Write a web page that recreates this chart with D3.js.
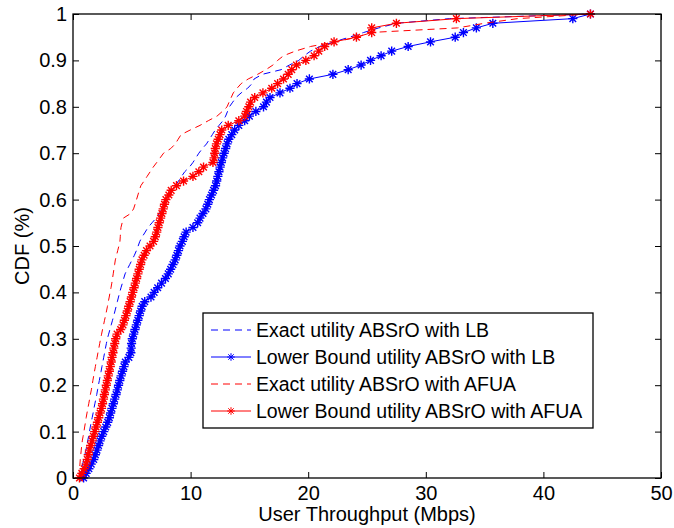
<!DOCTYPE html>
<html><head><meta charset="utf-8">
<script src="https://cdn.jsdelivr.net/npm/d3@7"></script>
<style>
body{margin:0;background:#fff}
svg{display:block}
text{font-family:"Liberation Sans",Arial,Helvetica,sans-serif;fill:#000}
</style>
</head><body>
<svg id="chart" width="674" height="528"></svg>
<script>
// ---- data: sorted user throughputs (Mbps), one value per CDF step ----
const seriesNames = [
  "Exact utility ABSrO with LB",
  "Lower Bound utility ABSrO with LB",
  "Exact utility ABSrO with AFUA",
  "Lower Bound utility ABSrO with AFUA"
];
const exactLB = [0.55,0.62,0.72,0.82,0.92,1.01,1.10,1.18,1.25,1.33,1.40,1.47,1.55,1.63,1.71,1.78,1.86,1.94,2.02,2.09,
 2.16,2.24,2.31,2.39,2.46,2.54,2.61,2.69,2.76,2.84,2.92,3.03,3.14,3.25,3.36,3.47,3.57,3.67,3.77,3.87,
 3.97,4.08,4.20,4.31,4.43,4.62,4.82,5.02,5.22,5.39,5.54,5.68,5.89,6.14,6.38,6.72,7.06,7.35,7.55,7.73,
 7.90,8.15,8.42,8.70,8.97,9.23,9.50,9.90,10.2,10.45,10.7,11.0,11.35,11.6,11.85,12.1,12.42,12.75,12.98,13.14,
 13.3,13.58,13.86,14.3,14.85,15.22,15.4,16.1,17.7,18.4,19.2,19.65,20.2,21.0,22.2,23.5,24.7,26.0,27.5,32.0,44.0];
const lowerLB = [0.9,1.12,1.35,1.55,1.76,1.90,2.04,2.17,2.30,2.44,2.61,2.78,2.95,3.09,3.20,3.31,3.43,3.54,3.66,3.77,
 3.87,3.98,4.09,4.21,4.33,4.45,4.75,4.92,4.95,4.98,5.04,5.16,5.27,5.39,5.51,5.63,5.75,5.88,6.10,6.63,
 6.90,7.20,7.53,7.86,8.10,8.30,8.50,8.69,8.83,8.97,9.10,9.30,9.45,9.62,10.2,10.6,10.8,11.05,11.3,11.46,
 11.6,11.78,11.95,12.12,12.22,12.32,12.41,12.51,12.61,12.72,12.85,12.98,13.1,13.25,13.5,13.75,14.1,14.6,15.0,15.55,
 16.2,16.45,16.75,17.6,18.45,19.05,20.1,22.1,23.4,24.5,25.3,26.2,27.1,28.5,30.4,32.5,33.2,34.3,35.7,42.5,44.0];
const exactAFUA = [0.50,0.53,0.56,0.59,0.62,0.66,0.70,0.74,0.79,0.86,0.93,0.99,1.06,1.12,1.19,1.26,1.34,1.41,1.48,1.56,
 1.63,1.69,1.76,1.83,1.90,1.97,2.05,2.12,2.20,2.27,2.35,2.43,2.51,2.60,2.68,2.77,2.85,2.93,3.00,3.08,
 3.15,3.23,3.30,3.36,3.42,3.48,3.54,3.60,3.70,3.80,3.90,3.99,4.02,4.04,4.08,4.18,4.28,4.90,5.15,5.28,
 5.40,5.52,5.64,5.77,6.04,6.30,6.56,6.82,7.12,7.41,7.70,8.31,8.70,8.94,9.19,9.97,10.8,11.5,12.25,12.7,
 13.1,13.27,13.45,13.63,13.95,14.3,14.9,15.7,16.4,17.0,17.4,17.9,18.9,20.2,22.3,24.2,25.2,32.7,35.0,37.8,44.0];
const lowerAFUA = [0.55,0.75,0.95,1.12,1.21,1.30,1.40,1.50,1.62,1.73,1.85,1.96,2.08,2.19,2.30,2.42,2.51,2.59,2.67,2.75,
 2.83,2.92,3.00,3.09,3.17,3.25,3.32,3.40,3.47,3.55,3.63,3.75,4.05,4.25,4.37,4.50,4.62,4.74,4.86,4.97,
 5.08,5.19,5.30,5.41,5.52,5.63,5.75,5.86,6.05,6.25,6.55,6.85,7.0,7.12,7.22,7.33,7.45,7.56,7.67,7.78,
 7.9,8.15,8.35,8.8,9.4,10.2,10.7,11.1,11.9,12.0,12.05,12.1,12.2,12.35,12.5,12.65,13.2,14.1,14.6,14.75,
 14.95,15.1,15.45,16.15,16.9,17.4,17.9,18.3,18.6,19.0,19.8,20.5,20.9,21.4,22.2,24.1,25.4,25.4,27.5,32.6,44.0];
const xTickValues = [0,10,20,30,40,50];
const yTickValues = [0,0.1,0.2,0.3,0.4,0.5,0.6,0.7,0.8,0.9,1];
const yTickLabels = ["0","0.1","0.2","0.3","0.4","0.5","0.6","0.7","0.8","0.9","1"];
const xLabel = "User Throughput (Mbps)";
const yLabel = "CDF (%)";

// ---- series styling ----
const series = [
  {name: seriesNames[0], values: exactLB,   color: "#0000ff", dashed: true,  marker: false},
  {name: seriesNames[1], values: lowerLB,   color: "#0000ff", dashed: false, marker: true},
  {name: seriesNames[2], values: exactAFUA, color: "#ff0000", dashed: true,  marker: false},
  {name: seriesNames[3], values: lowerAFUA, color: "#ff0000", dashed: false, marker: true}
];

const svg = d3.select("#chart");
const L = 73, R = 661, T = 14, B = 478;
const x = d3.scaleLinear().domain([0, 50]).range([L, R]);
const y = d3.scaleLinear().domain([0, 1]).range([B, T]);
const FS = 20, LFS = 19.5;
const DASH = "7,5";

// axes
const tick = 6;
const gx = svg.append("g").attr("transform", `translate(0,${B})`)
  .call(d3.axisBottom(x).tickValues(xTickValues).tickSize(-tick).tickSizeOuter(0).tickPadding(8));
const gy = svg.append("g").attr("transform", `translate(${L},0)`)
  .call(d3.axisLeft(y).tickValues(yTickValues).tickFormat((d, i) => yTickLabels[i]).tickSize(-tick).tickSizeOuter(0).tickPadding(6));
const gt = svg.append("g").attr("transform", `translate(0,${T})`)
  .call(d3.axisTop(x).tickValues(xTickValues).tickFormat("").tickSize(-tick).tickSizeOuter(0));
const gr = svg.append("g").attr("transform", `translate(${R},0)`)
  .call(d3.axisRight(y).tickValues(yTickValues).tickFormat("").tickSize(-tick).tickSizeOuter(0));
[gx, gy, gt, gr].forEach(g => {
  g.selectAll(".domain").remove();
  g.selectAll("line").attr("stroke", "#000").attr("stroke-width", 1);
  g.selectAll("text").attr("font-size", FS).attr("font-family", '"Liberation Sans",Arial,sans-serif').attr("fill", "#000");
});

// star marker paths
function starPath(r) {
  const d = r * 0.72;
  return `M${-r},0H${r}M0,${-r}V${r}M${-d},${-d}L${d},${d}M${-d},${d}L${d},${-d}`;
}
const starCurve = starPath(4.6), starLegend = starPath(3.8);

const line = d3.line().x(v => x(v[0])).y(v => y(v[1]));
series.forEach(s => {
  const n = s.values.length;
  const pts = s.values.map((v, i) => [v, i / (n - 1)]);
  const g = svg.append("g");
  g.append("path").datum(pts).attr("d", line)
    .attr("fill", "none").attr("stroke", s.color).attr("stroke-width", 1)
    .attr("stroke-dasharray", s.dashed ? DASH : null);
  if (s.marker) {
    g.selectAll("path.m").data(pts).join("path").attr("class", "m")
      .attr("transform", p => `translate(${x(p[0])},${y(p[1])})`)
      .attr("d", starCurve).attr("fill", "none").attr("stroke", s.color).attr("stroke-width", 1.4);
  }
});

// box
svg.append("rect").attr("x", L).attr("y", T).attr("width", R - L).attr("height", B - T)
  .attr("fill", "none").attr("stroke", "#000").attr("stroke-width", 1.3);

// axis labels
svg.append("text").attr("x", (L + R) / 2).attr("y", 521).attr("text-anchor", "middle")
  .attr("font-size", FS).text(xLabel);
svg.append("text").attr("transform", `translate(29,${(T + B) / 2}) rotate(-90)`)
  .attr("text-anchor", "middle").attr("font-size", FS).text(yLabel);

// legend
const lg = svg.append("g");
const lx = 203, ly = 313, lw = 390, lh = 115;
lg.append("rect").attr("x", lx).attr("y", ly).attr("width", lw).attr("height", lh)
  .attr("fill", "#fff").attr("stroke", "#000").attr("stroke-width", 1.3);
series.forEach((s, i) => {
  const cy = ly + 17 + i * 27;
  lg.append("line").attr("x1", lx + 8).attr("x2", lx + 48).attr("y1", cy).attr("y2", cy)
    .attr("stroke", s.color).attr("stroke-width", 1).attr("stroke-dasharray", s.dashed ? DASH : null);
  if (s.marker) lg.append("path").attr("transform", `translate(${lx + 28},${cy})`)
    .attr("d", starLegend).attr("fill", "none").attr("stroke", s.color).attr("stroke-width", 1);
  lg.append("text").attr("x", lx + 53).attr("y", cy).attr("dy", "0.35em")
    .attr("font-size", LFS).text(s.name);
});
</script>
</body></html>
